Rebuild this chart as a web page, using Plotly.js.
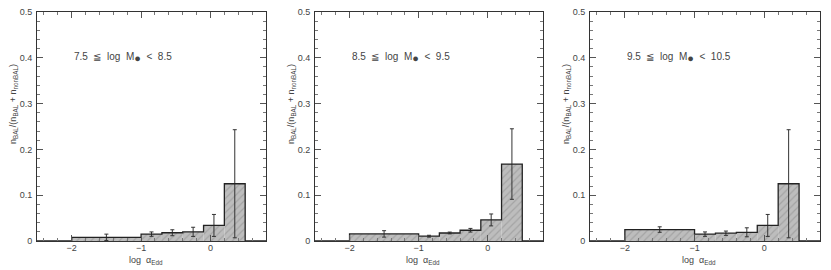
<!DOCTYPE html>
<html>
<head>
<meta charset="utf-8">
<script src="https://cdn.plot.ly/plotly-3.0.1.min.js"></script>
<style>html,body{margin:0;padding:0;background:#fff}#chart{width:831px;height:270px}</style>
</head>
<body>
<div id="chart"></div>
<script>
// Bin edges in log alpha_Edd (shared by all panels)
const binEdges = [-2, -1, -0.7, -0.4, -0.1, 0.2, 0.5];
// Panel labels (mass bins)
const panelLabels = [
  "7.5  ≦  log  M<sub><span style='font-size:11px'>●</span></sub>  <  8.5",
  "8.5  ≦  log  M<sub><span style='font-size:11px'>●</span></sub>  <  9.5",
  "9.5  ≦  log  M<sub><span style='font-size:11px'>●</span></sub>  <  10.5"
];
// BAL fraction per bin
const frac1 = [0.008, 0.015, 0.018, 0.020, 0.034, 0.125];
const frac2 = [0.0155, 0.0105, 0.0175, 0.0235, 0.046, 0.168];
const frac3 = [0.025, 0.015, 0.017, 0.019, 0.034, 0.125];
// Error bars (half-lengths)
const err1 = [0.007, 0.0048, 0.0065, 0.010, 0.024, 0.118];
const err2 = [0.007, 0.002, 0.002, 0.004, 0.013, 0.077];
const err3 = [0.006, 0.0048, 0.0047, 0.0098, 0.024, 0.118];
// Axis ticks
const xTickVals = [-2, -1, 0];
const xTickText = ["−2", "−1", "0"];
const yTickVals = [0, 0.1, 0.2, 0.3, 0.4, 0.5];
const yTickText = ["0", "0.1", "0.2", "0.3", "0.4", "0.5"];
const xRange = [-2.5, 0.8];
const yRange = [0, 0.5];

const fracs = [frac1, frac2, frac3];
const errs = [err1, err2, err3];
const centers = binEdges.slice(0, -1).map((e, i) => (e + binEdges[i + 1]) / 2);
const widths = binEdges.slice(0, -1).map((e, i) => binEdges[i + 1] - e);

const W = 831, H = 270;
const xDomPx = [[37, 266], [315, 543], [590, 820]];
const yDom = [(H - 241) / H, (H - 12) / H];
const textColor = "#444";
const font = {family: "Liberation Sans, Arial, sans-serif", size: 9, color: textColor};
const labelFont = {family: "Liberation Sans, Arial, sans-serif", size: 10, color: textColor};

const data = [];
const layout = {
  width: W, height: H,
  margin: {l: 0, r: 0, t: 0, b: 0},
  paper_bgcolor: "#fff", plot_bgcolor: "#fff",
  showlegend: false,
  font: font,
  annotations: []
};

fracs.forEach((f, p) => {
  const xa = p === 0 ? "x" : "x" + (p + 1);
  const ya = p === 0 ? "y" : "y" + (p + 1);
  data.push({
    type: "bar", x: centers, y: f, width: widths, xaxis: xa, yaxis: ya,
    marker: {
      color: "#bdbdbd",
      line: {width: 0},
      pattern: {shape: "/", fillmode: "overlay", fgcolor: "#8c8c8c", size: 5, solidity: 0.25}
    },
    error_y: {type: "data", array: errs[p], visible: true, color: "#333", thickness: 1, width: 2},
    hoverinfo: "skip"
  });
  // step outline
  const sx = [xRange[0]].concat(binEdges.slice(0, -1), [binEdges[binEdges.length - 1], xRange[1]]);
  const sy = [0].concat(f, [0, 0]);
  data.push({
    type: "scatter", mode: "lines", x: sx, y: sy, xaxis: xa, yaxis: ya,
    line: {shape: "hv", color: "#222", width: 1.3}, hoverinfo: "skip"
  });
  const sfx = p === 0 ? "" : String(p + 1);
  layout["xaxis" + sfx] = {
    domain: [xDomPx[p][0] / W, xDomPx[p][1] / W],
    range: xRange, anchor: ya,
    tickvals: xTickVals, ticktext: xTickText,
    ticks: "inside", ticklen: 6, tickwidth: 1, tickcolor: "#555",
    minor: {dtick: 0.2, tick0: 0, ticks: "inside", ticklen: 3, tickcolor: "#777", tickwidth: 1},
    showline: true, linecolor: "#333", linewidth: 1, mirror: "allticks",
    showgrid: false, zeroline: false, tickfont: font, ticklabelstandoff: -2
  };
  layout["yaxis" + sfx] = {
    domain: yDom, range: yRange, anchor: xa,
    tickvals: yTickVals, ticktext: yTickText,
    ticks: "inside", ticklen: 6, tickwidth: 1, tickcolor: "#555",
    minor: {dtick: 0.02, tick0: 0, ticks: "inside", ticklen: 3, tickcolor: "#777", tickwidth: 1},
    showline: true, linecolor: "#333", linewidth: 1, mirror: "allticks",
    showgrid: false, zeroline: false, tickfont: font, ticklabelstandoff: 2
  };
  layout.annotations.push({
    xref: xa, yref: ya, x: -2, y: 0.4, xanchor: "left", yanchor: "middle",
    text: panelLabels[p], showarrow: false, font: labelFont
  });
  layout.annotations.push({
    xref: xa + " domain", yref: ya + " domain", x: 0.5, y: 0, xshift: -6, yshift: -19,
    xanchor: "center", yanchor: "middle",
    text: "log  α<sub>Edd</sub>", showarrow: false, font: font
  });
  layout.annotations.push({
    xref: xa + " domain", yref: ya + " domain", x: 0, y: 0.598, xshift: -24,
    xanchor: "center", yanchor: "middle", textangle: -90,
    text: "n<sub>BAL</sub>/(n<sub>BAL</sub> + n<sub>nonBAL</sub>)", showarrow: false, font: font
  });
});

Plotly.newPlot("chart", data, layout, {staticPlot: true, displayModeBar: false});
</script>
</body>
</html>
